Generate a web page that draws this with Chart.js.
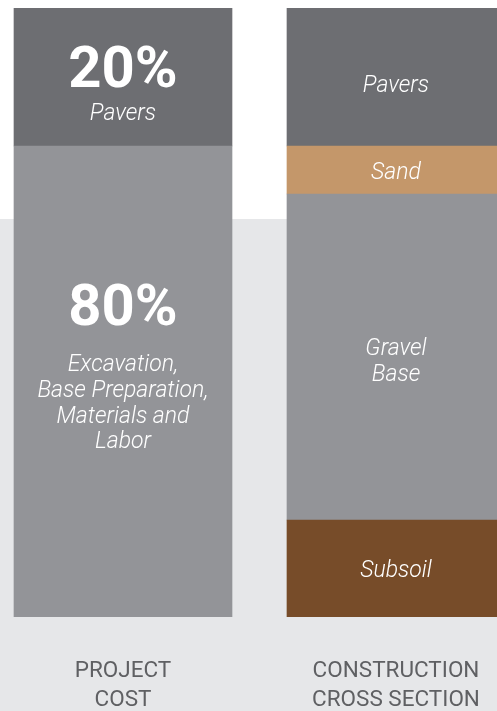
<!DOCTYPE html>
<html>
<head>
<meta charset="utf-8">
<script src="https://cdn.jsdelivr.net/npm/chart.js@4.4.1/dist/chart.umd.min.js"></script>
<style>
  html, body { margin: 0; padding: 0; overflow: hidden; width: 497px; height: 711px; background: #ffffff; }
  #wrap { position: absolute; left: -14px; top: 0; width: 547px; height: 711px; }
</style>
</head>
<body>
<div id="wrap"><canvas id="c" width="547" height="711"></canvas></div>
<script>
// ---- data ----
const categories = [["PROJECT", "COST"], ["CONSTRUCTION", "CROSS SECTION"]];
// share of bar height (%)
const costPavers = [22.66, null];
const costOther = [77.34, null];
const layerPavers = [null, 22.66];
const layerSand = [null, 7.88];
const layerGravel = [null, 53.53];
const layerSubsoil = [null, 15.93];
// printed labels
const costPaversLabel = ["20%", "Pavers"];
const costOtherLabel = ["80%", "Excavation,", "Base Preparation,", "Materials and", "Labor"];
const layerPaversLabel = ["Pavers"];
const layerSandLabel = ["Sand"];
const layerGravelLabel = ["Gravel", "Base"];
const layerSubsoilLabel = ["Subsoil"];

const C_PAVER = '#6d6e72', C_BASE = '#939498', C_SAND = '#c4976a', C_SOIL = '#774c29';
const FONT = 'Roboto, "DejaVu Sans", sans-serif';

// datasets listed bottom-to-top of each stack
const datasets = [
  { data: costOther, backgroundColor: C_BASE, txt: costOtherLabel, dy: [-56, -10, 16, 42, 67], big: true },
  { data: costPavers, backgroundColor: C_PAVER, txt: costPaversLabel, dy: [10, 43], big: true },
  { data: layerSubsoil, backgroundColor: C_SOIL, txt: layerSubsoilLabel, dy: [9] },
  { data: layerGravel, backgroundColor: C_BASE, txt: layerGravelLabel, dy: [-2, 24] },
  { data: layerSand, backgroundColor: C_SAND, txt: layerSandLabel, dy: [9] },
  { data: layerPavers, backgroundColor: C_PAVER, txt: layerPaversLabel, dy: [15] }
];

const bgPlugin = {
  id: 'bg',
  beforeDraw(chart) {
    const ctx = chart.ctx;
    ctx.save();
    ctx.fillStyle = '#ffffff';
    ctx.fillRect(0, 0, chart.width, 219);
    ctx.fillStyle = '#e6e7e9';
    ctx.fillRect(0, 219, chart.width, chart.height - 219);
    ctx.restore();
  }
};

const labelPlugin = {
  id: 'segLabels',
  afterDatasetsDraw(chart) {
    const ctx = chart.ctx;
    ctx.save();
    ctx.textAlign = 'center';
    ctx.textBaseline = 'alphabetic';
    ctx.fillStyle = '#ffffff';
    chart.data.datasets.forEach((ds, i) => {
      const meta = chart.getDatasetMeta(i);
      meta.data.forEach((bar, j) => {
        if (ds.data[j] == null) return;
        const cy = (bar.y + bar.base) / 2;
        ds.txt.forEach((t, k) => {
          if (ds.big && k === 0) {
            ctx.font = 'bold 58px ' + FONT;
          } else {
            ctx.font = 'italic 300 23px ' + FONT;
          }
          ctx.fillText(t, bar.x, cy + ds.dy[k]);
        });
      });
    });
    // category labels
    const xs = chart.scales.x;
    ctx.fillStyle = '#5f6063';
    ctx.font = '400 22.5px ' + FONT;
    categories.forEach((lines, j) => {
      const x = xs.getPixelForValue(j);
      lines.forEach((l, k) => ctx.fillText(l, x, 677 + k * 29));
    });
    ctx.restore();
  }
};

new Chart(document.getElementById('c'), {
  type: 'bar',
  data: { labels: categories.map(c => c.join(' ')), datasets },
  options: {
    responsive: false,
    animation: false,
    layout: { padding: { top: 8, bottom: 94, left: 0.5, right: 0.5 } },
    barThickness: 218,
    scales: {
      x: { stacked: true, display: false, offset: true },
      y: { stacked: true, display: false, min: 0, max: 100 }
    },
    plugins: { legend: { display: false }, tooltip: { enabled: false } }
  },
  plugins: [bgPlugin, labelPlugin]
});
</script>
</body>
</html>
